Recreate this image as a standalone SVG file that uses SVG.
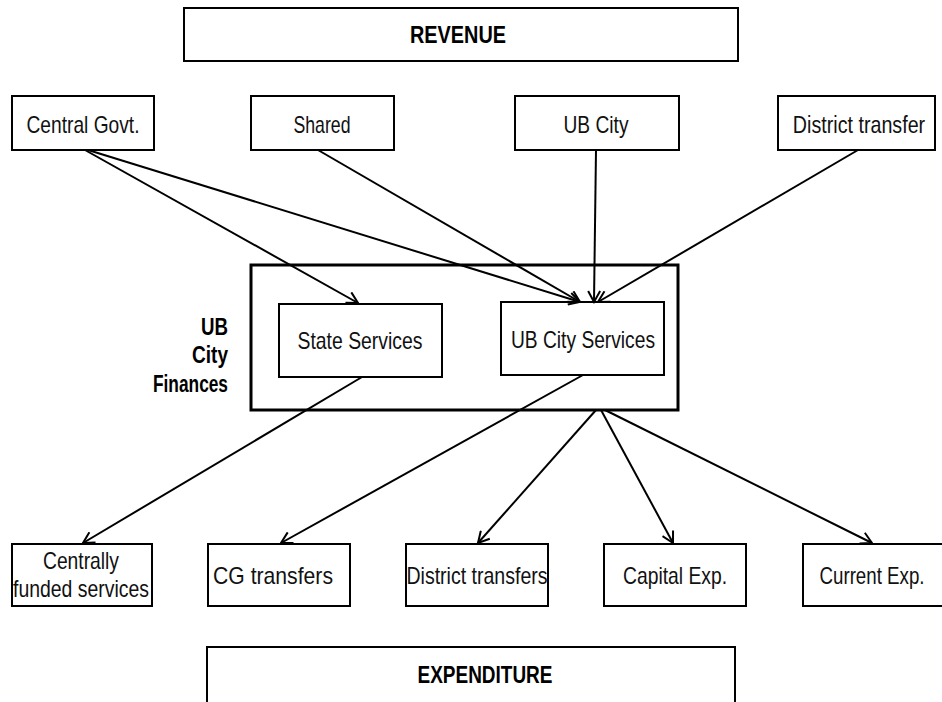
<svg xmlns="http://www.w3.org/2000/svg" width="942" height="702" viewBox="0 0 942 702">
<defs>
<style>
.box{fill:#fff;stroke:#000;stroke-width:2}
.big{fill:none;stroke:#000;stroke-width:3}
.t{font-family:"Liberation Sans Narrow","Arial Narrow","Liberation Sans",Arial,sans-serif;font-size:24px;fill:#111;text-anchor:middle}
.b{font-family:"Liberation Sans Narrow","Arial Narrow","Liberation Sans",Arial,sans-serif;font-size:23px;font-weight:bold;fill:#000}
.c{stroke:#000;stroke-width:2;fill:none;marker-end:url(#ah)}
</style>
<marker id="ah" markerUnits="userSpaceOnUse" viewBox="0 0 14 14" refX="12" refY="7" markerWidth="14" markerHeight="14" orient="auto">
<path d="M1,1 L12,7 L1,13" fill="none" stroke="#000" stroke-width="2"/>
</marker>
</defs>
<rect width="942" height="702" fill="#fff"/>

<g id="revenue">
<rect class="box" x="184" y="8" width="554" height="53"/>
<text class="b" x="458" y="43" text-anchor="middle" textLength="96" lengthAdjust="spacingAndGlyphs">REVENUE</text>
</g>

<g id="central-govt">
<rect class="box" x="12" y="96" width="142" height="54"/>
<text class="t" x="83" y="133" textLength="113" lengthAdjust="spacingAndGlyphs">Central Govt.</text>
</g>
<g id="shared">
<rect class="box" x="251" y="96" width="143" height="54"/>
<text class="t" x="322" y="133" textLength="57" lengthAdjust="spacingAndGlyphs">Shared</text>
</g>
<g id="ub-city">
<rect class="box" x="515" y="96" width="164" height="54"/>
<text class="t" x="596" y="133" textLength="65" lengthAdjust="spacingAndGlyphs">UB City</text>
</g>
<g id="district-transfer">
<rect class="box" x="778" y="96" width="157" height="54"/>
<text class="t" transform="translate(859,133) scale(0.82,1)" x="0" y="0">District transfer</text>
</g>

<g id="ub-city-finances">
<rect class="big" x="251" y="265" width="427" height="145"/>
<text class="b" x="228" y="335" text-anchor="end" textLength="27" lengthAdjust="spacingAndGlyphs">UB</text>
<text class="b" x="228" y="363" text-anchor="end" textLength="36" lengthAdjust="spacingAndGlyphs">City</text>
<text class="b" x="228" y="392" text-anchor="end" textLength="75" lengthAdjust="spacingAndGlyphs">Finances</text>
</g>
<g id="state-services">
<rect class="box" x="279" y="304" width="163" height="73"/>
<text class="t" x="360" y="349" textLength="125" lengthAdjust="spacingAndGlyphs">State Services</text>
</g>
<g id="ub-city-services">
<rect class="box" x="501" y="302" width="163" height="73"/>
<text class="t" x="583" y="348" textLength="144" lengthAdjust="spacingAndGlyphs">UB City Services</text>
</g>

<g id="centrally-funded">
<rect class="box" x="12" y="544" width="140" height="62"/>
<text class="t" x="81" y="569" textLength="76" lengthAdjust="spacingAndGlyphs">Centrally</text>
<text class="t" x="81" y="597" textLength="136" lengthAdjust="spacingAndGlyphs">funded services</text>
</g>
<g id="cg-transfers">
<rect class="box" x="208" y="544" width="142" height="62"/>
<text class="t" x="273" y="584" textLength="120" lengthAdjust="spacingAndGlyphs">CG transfers</text>
</g>
<g id="district-transfers">
<rect class="box" x="406" y="544" width="142" height="62"/>
<text class="t" x="477" y="584" textLength="141" lengthAdjust="spacingAndGlyphs">District transfers</text>
</g>
<g id="capital-exp">
<rect class="box" x="604" y="544" width="142" height="62"/>
<text class="t" x="675" y="584" textLength="104" lengthAdjust="spacingAndGlyphs">Capital Exp.</text>
</g>
<g id="current-exp">
<rect class="box" x="803" y="544" width="142" height="62"/>
<text class="t" transform="translate(872,584) scale(0.78,1)" x="0" y="0">Current Exp.</text>
</g>

<g id="expenditure">
<rect class="box" x="207" y="647" width="528" height="60"/>
<text class="b" x="485" y="683" text-anchor="middle" textLength="135" lengthAdjust="spacingAndGlyphs">EXPENDITURE</text>
</g>

<g id="connectors">
<line class="c" x1="85" y1="150" x2="358" y2="303"/>
<line class="c" x1="88" y1="150" x2="580" y2="302"/>
<line class="c" x1="318" y1="150" x2="580" y2="302"/>
<line class="c" x1="596" y1="150" x2="594" y2="302"/>
<line class="c" x1="858" y1="150" x2="598" y2="302"/>
<line class="c" x1="362" y1="377" x2="83" y2="543"/>
<line class="c" x1="583" y1="375" x2="281" y2="543"/>
<line class="c" x1="596" y1="410" x2="478" y2="543"/>
<line class="c" x1="601" y1="410" x2="673" y2="543"/>
<line class="c" x1="605" y1="410" x2="872" y2="543"/>
</g>
</svg>
